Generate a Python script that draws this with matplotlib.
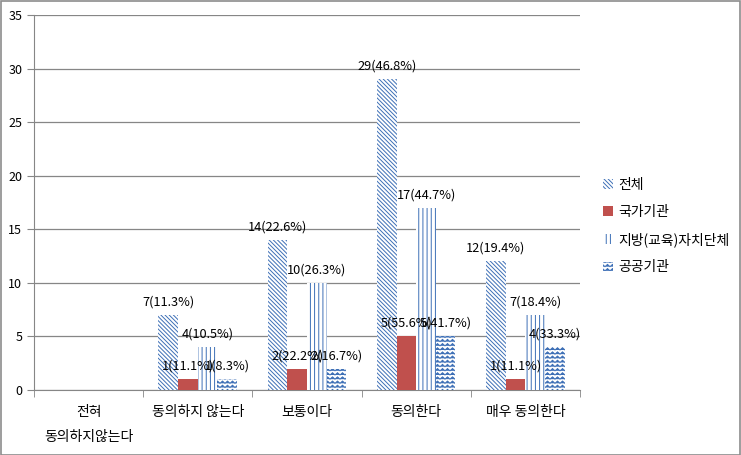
import matplotlib
matplotlib.use("Agg")
import matplotlib.pyplot as plt
import matplotlib.hatch as mhatch
from matplotlib.path import Path
import numpy as np
from matplotlib.patches import Rectangle

plt.rcParams['font.family'] = ['Noto Sans CJK KR', 'DejaVu Sans']


class WaveHatch(mhatch.HatchPatternBase):
    """Zigzag wave hatch, triggered by '*'."""
    teeth = 20

    def __init__(self, hatch, density):
        self.num_rows = int(hatch.count('*') * density)
        self.num_vertices = self.num_rows * (2 * self.teeth + 1)

    def set_vertices_and_codes(self, vertices, codes):
        n = 2 * self.teeth + 1
        xs = np.linspace(0, 1, n)
        amp = 0.55 / max(self.num_rows, 1)
        for r in range(self.num_rows):
            y0 = r / self.num_rows
            ys = y0 + np.where(np.arange(n) % 2 == 1, amp, 0.0)
            sl = slice(r * n, (r + 1) * n)
            vertices[sl, 0] = xs
            vertices[sl, 1] = ys
            codes[sl] = Path.LINETO
            codes[r * n] = Path.MOVETO


mhatch._hatch_types = [h for h in mhatch._hatch_types if h.__name__ != 'Stars'] + [WaveHatch]

categories = ["전혀\n동의하지않는다", "동의하지 않는다", "보통이다", "동의한다", "매우 동의한다"]
series_names = ["전체", "국가기관", "지방(교육)자치단체", "공공기관"]
total = [0, 7, 14, 29, 12]
national = [0, 1, 2, 5, 1]
local = [0, 4, 10, 17, 7]
public = [0, 1, 2, 5, 4]
total_lbl = ["", "7(11.3%)", "14(22.6%)", "29(46.8%)", "12(19.4%)"]
national_lbl = ["", "1(11.1%)", "2(22.2%)", "5(55.6%)", "1(11.1%)"]
local_lbl = ["", "4(10.5%)", "10(26.3%)", "17(44.7%)", "7(18.4%)"]
public_lbl = ["", "1(8.3%)", "2(16.7%)", "5(41.7%)", "4(33.3%)"]

blue = "#3d6fb6"
red = "#c0504d"
grid = "#868686"

plt.rcParams['hatch.linewidth'] = 0.7

fig = plt.figure(figsize=(7.41, 4.55), dpi=100)
fig.patches.append(Rectangle((0.001, 0.001), 0.998, 0.997, transform=fig.transFigure,
                             fill=False, edgecolor="#8c8c8c", linewidth=1.2))
ax = fig.add_axes([0.0459, 0.1429, 0.7368, 0.824])

x = np.arange(len(categories))
w = 0.18
styles = [
    dict(color="white", edgecolor=blue, hatch="\\" * 8, lw=0),
    dict(color=red, edgecolor=red, hatch=None, lw=0),
    dict(color="white", edgecolor=blue, hatch="||||", lw=0),
    dict(color="white", edgecolor=blue, hatch="****", lw=0),
]
data = [total, national, local, public]
labels = [total_lbl, national_lbl, local_lbl, public_lbl]
for i, (vals, lbls, st, name) in enumerate(zip(data, labels, styles, series_names)):
    pos = x + (i - 1.5) * w
    ax.bar(pos, vals, width=w, color=st["color"], edgecolor=st["edgecolor"],
           hatch=st["hatch"], linewidth=st["lw"], label=name, zorder=3)
    for p, v, t in zip(pos, vals, lbls):
        if t:
            ax.text(p, v + 0.6, t, ha="center", va="bottom", fontsize=9.2, zorder=5)

ax.set_xlim(-0.5, len(categories) - 0.5)
ax.set_ylim(0, 35)
ax.set_yticks(range(0, 36, 5))
ax.yaxis.grid(True, color=grid, linewidth=0.9, zorder=0)
ax.set_axisbelow(True)
ax.set_xticks(x)
ax.set_xticklabels(categories, fontsize=10, linespacing=2.0)
ax.tick_params(axis="x", length=0, pad=11)
ax.set_xticks(np.arange(-0.5, len(categories), 1), minor=True)
ax.tick_params(axis="x", which="minor", length=5, color=grid, direction="out")
ax.tick_params(axis="y", length=5, color=grid, labelsize=9, direction="out")
for s in ["top", "right"]:
    ax.spines[s].set_visible(False)
ax.spines["left"].set_color(grid)
ax.spines["bottom"].set_color(grid)

leg = ax.legend(loc="center left", bbox_to_anchor=(1.02, 0.437), frameon=False,
                fontsize=10, handlelength=0.7, handleheight=0.7, handletextpad=0.4,
                labelspacing=0.95)

fig.savefig("out.png", dpi=100)
